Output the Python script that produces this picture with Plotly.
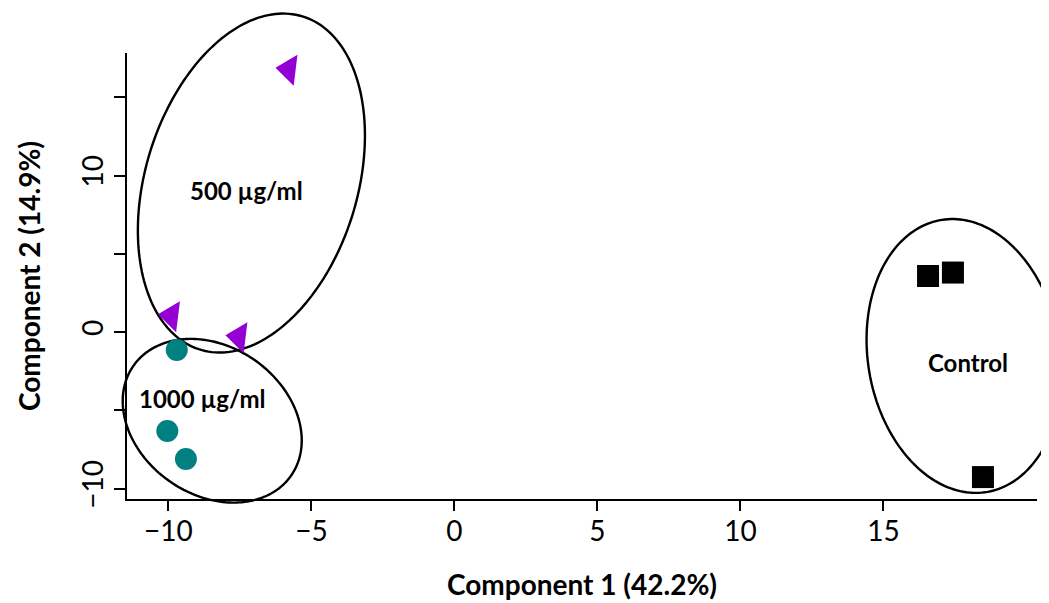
import numpy as np
import plotly.graph_objects as go

# ---- data ----
tri_x = [-5.79, -9.90, -7.54]
tri_y = [16.78, 1.03, -0.31]
circ_x = [-9.71, -10.04, -9.39]
circ_y = [-1.15, -6.33, -8.12]
sq_x = [16.56, 17.43, 18.48]
sq_y = [3.58, 3.80, -9.27]

group_labels = ["500 µg/ml", "1000 µg/ml", "Control"]
label_x = [-7.27, -8.81, 17.97]
label_y = [9.07, -4.22, -1.92]

# ellipses: center x, center y, half-width, half-height, correlation
ell_cx = [-7.10, -8.47, 17.82]
ell_cy = [9.52, -5.67, -1.53]
ell_hx = [3.97, 3.13, 3.41]
ell_hy = [10.83, 5.23, 8.75]
ell_rho = [0.28, -0.24, -0.12]

x_ticks = [-10, -5, 0, 5, 10, 15]
y_ticks = [-10, -5, 0, 5, 10, 15]
y_ticktext = ["−10", "", "0", "", "10", ""]
x_ticktext = ["−10", "−5", "0", "5", "10", "15"]

XR = [-11.45, 20.37]
YR = [-10.67, 17.83]

FONT = "Lato"

fig = go.Figure()
fig.add_trace(go.Scatter(x=tri_x, y=tri_y, mode="markers",
                         marker=dict(symbol="triangle-left", size=27, color="#9400D3", angle=7),
                         cliponaxis=False, showlegend=False))
fig.add_trace(go.Scatter(x=circ_x, y=circ_y, mode="markers",
                         marker=dict(symbol="circle", size=22, color="#008080"),
                         cliponaxis=False, showlegend=False))
fig.add_trace(go.Scatter(x=sq_x, y=sq_y, mode="markers",
                         marker=dict(symbol="square", size=22, color="black"),
                         cliponaxis=False, showlegend=False))

# ellipses as unclipped paper-ref paths (converted from data coordinates via axis ranges)
t = np.linspace(0, 2 * np.pi, 200)
def to_px(x):
    return (x - XR[0]) / (XR[1] - XR[0])
def to_py(y):
    return (y - YR[0]) / (YR[1] - YR[0])

for cx, cy, hx, hy, r in zip(ell_cx, ell_cy, ell_hx, ell_hy, ell_rho):
    ex = cx + hx * np.cos(t)
    ey = cy + hy * (r * np.cos(t) + np.sqrt(1 - r * r) * np.sin(t))
    pts = [f"{to_px(a):.5f},{to_py(b):.5f}" for a, b in zip(ex, ey)]
    path = "M" + " L".join(pts) + " Z"
    fig.add_shape(type="path", path=path, xref="paper", yref="paper",
                  line=dict(color="black", width=2.4), fillcolor="rgba(0,0,0,0)", layer="below")

for lab, lx, ly in zip(group_labels, label_x, label_y):
    fig.add_annotation(x=lx, y=ly, text=f"<b>{lab}</b>", showarrow=False,
                       font=dict(family=FONT, size=24, color="black"))

# page body has an 8px default margin; size/margins compensate for it
fig.update_layout(
    width=1041, height=595,
    margin=dict(l=119, r=12, t=45, b=104),
    paper_bgcolor="white", plot_bgcolor="white",
    font=dict(family=FONT, color="black"),
)
fig.update_xaxes(range=XR, showgrid=False, zeroline=False, automargin=False,
                 showline=True, linecolor="black", linewidth=2,
                 ticks="outside", ticklen=10, tickwidth=2, tickcolor="black",
                 tickvals=x_ticks, ticktext=x_ticktext, ticklabelstandoff=-4,
                 tickfont=dict(family=FONT, size=28, color="black"),
                 title=dict(text="<b>Component 1 (42.2%)</b>",
                            font=dict(family=FONT, size=28, color="black"), standoff=30))
fig.update_yaxes(range=YR, showgrid=False, zeroline=False, automargin=False,
                 showline=True, linecolor="black", linewidth=2,
                 ticks="outside", ticklen=11, tickwidth=2, tickcolor="black",
                 tickvals=y_ticks, ticktext=y_ticktext, tickangle=-90,
                 tickfont=dict(family=FONT, size=28, color="black"),
                 title=dict(text="<b>Component 2 (14.9%)</b>",
                            font=dict(family=FONT, size=28, color="black"), standoff=26))

fig.write_html("out.html")
